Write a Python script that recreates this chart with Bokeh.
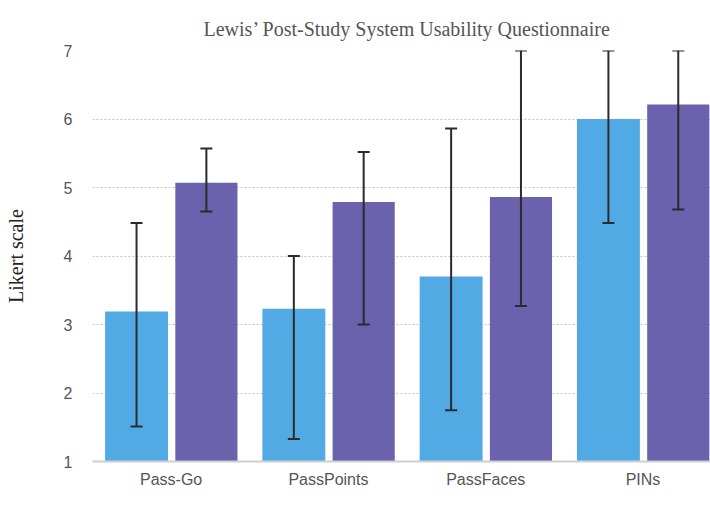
from bokeh.plotting import figure
from bokeh.models import (ColumnDataSource, Range1d, FixedTicker, Whisker, TeeHead, Legend,
                          LegendItem)
from bokeh.transform import dodge
from bokeh.embed import file_html
from bokeh.resources import INLINE

categories = ["Pass-Go", "PassPoints", "PassFaces", "PINs"]
first_day = [3.19, 3.23, 3.70, 6.00]
last_day = [5.07, 4.79, 4.86, 6.21]
first_low = [1.51, 1.33, 1.75, 4.48]
first_high = [4.48, 4.00, 5.86, 7.00]
last_low = [4.65, 3.00, 3.27, 4.68]
last_high = [5.57, 5.52, 7.00, 7.00]
y_ticks = [1, 2, 3, 4, 5, 6, 7]

BLUE = "#52AAE4"
PURPLE = "#6A62AC"

src = ColumnDataSource(dict(
    idx=list(range(len(categories))),
    first=first_day, last=last_day,
    flo=first_low, fhi=first_high,
    llo=last_low, lhi=last_high,
))

p = figure(width=710, height=531, output_backend="svg", toolbar_location=None,
           x_range=Range1d(-0.5, 3.429), y_range=Range1d(1, 7),
           min_border_left=92, min_border_right=0, min_border_top=50, min_border_bottom=70)
p.frame_width = 618
p.frame_height = 411

p.title.text = "Lewis\u2019 Post-Study System Usability Questionnaire"
p.title.text_font = "Liberation Serif"
p.title.text_font_size = "20px"
p.title.text_font_style = "normal"
p.title.text_color = "#555555"
p.title.align = "left"
p.title.offset = 111
p.title.standoff = 22

p.outline_line_color = None
p.background_fill_color = "white"
p.border_fill_color = "white"

b1 = p.vbar(x=dodge("idx", -0.22, range=p.x_range), top="first", bottom=1, width=0.40,
            source=src, fill_color=BLUE, line_color=None)
b2 = p.vbar(x=dodge("idx", 0.224, range=p.x_range), top="last", bottom=1, width=0.395,
            source=src, fill_color=PURPLE, line_color=None)

for off, lo, hi in [(-0.22, "flo", "fhi"), (0.224, "llo", "lhi")]:
    w = Whisker(base=dodge("idx", off, range=p.x_range), lower=lo, upper=hi, source=src,
                line_color="#2b2b2b", line_width=2, level="overlay",
                upper_head=TeeHead(size=12, line_color="#2b2b2b", line_width=2),
                lower_head=TeeHead(size=12, line_color="#2b2b2b", line_width=2))
    p.add_layout(w)

# axes
p.xaxis.ticker = FixedTicker(ticks=list(range(len(categories))))
p.xaxis.major_label_overrides = {i: c for i, c in enumerate(categories)}
p.xaxis.axis_line_color = "#cfcfcf"
p.xaxis.axis_line_width = 2
p.xaxis.major_tick_line_color = None
p.xaxis.minor_tick_line_color = None
p.xaxis.major_label_text_font = "Liberation Sans"
p.xaxis.major_label_text_font_size = "16px"
p.xaxis.major_label_text_color = "#555555"
p.xaxis.major_label_standoff = 3

p.yaxis.ticker = FixedTicker(ticks=y_ticks)
p.yaxis.axis_line_color = None
p.yaxis.major_tick_line_color = None
p.yaxis.minor_tick_line_color = None
p.yaxis.major_label_text_font = "Liberation Sans"
p.yaxis.major_label_text_font_size = "16px"
p.yaxis.major_label_text_color = "#555555"
p.yaxis.major_label_standoff = 14
p.yaxis.axis_label = "Likert scale"
p.yaxis.axis_label_text_font = "Liberation Serif"
p.yaxis.axis_label_text_font_size = "20px"
p.yaxis.axis_label_text_font_style = "normal"
p.yaxis.axis_label_text_color = "#222222"
p.yaxis.axis_label_standoff = 34

p.xgrid.grid_line_color = None
p.ygrid.grid_line_color = "#c4c4c4"
p.ygrid.grid_line_dash = "2 2"
p.ygrid.grid_line_width = 1

legend = Legend(items=[LegendItem(label="first day", renderers=[b1]),
                       LegendItem(label="last day", renderers=[b2])],
                orientation="horizontal", location="center",
                label_text_font="Liberation Sans", label_text_font_size="16px",
                label_text_color="#555555", glyph_width=14, glyph_height=14,
                label_standoff=12, spacing=150, border_line_color=None,
                background_fill_alpha=0, padding=0, margin=0)
p.add_layout(legend, "below")

open("out.html", "w").write(file_html(p, INLINE))
